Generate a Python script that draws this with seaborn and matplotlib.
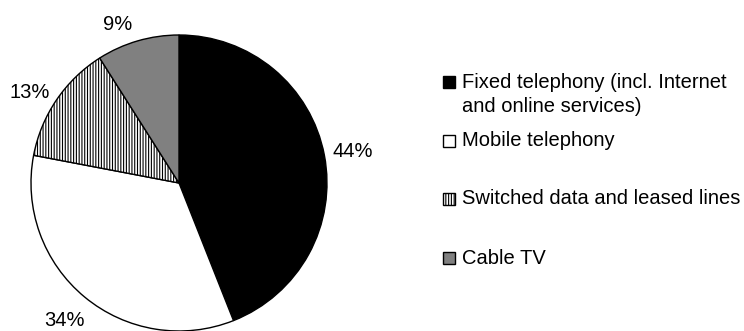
import matplotlib
matplotlib.use("Agg")
import matplotlib.pyplot as plt
from matplotlib.patches import Rectangle
import numpy as np
import seaborn as sns

# Revenue split by market segment
segments = ["Fixed telephony (incl. Internet\nand online services)",
            "Mobile telephony",
            "Switched data and leased lines",
            "Cable TV"]
shares = [44, 34, 13, 9]
fills = ["#000000", "#ffffff", "#ffffff", "#808080"]
hatches = [None, None, "||||||", None]

sns.set_theme(style="white")
plt.rcParams["font.family"] = ["Liberation Sans", "DejaVu Sans"]
plt.rcParams["hatch.linewidth"] = 0.8

W, H = 744, 331
fig = plt.figure(figsize=(W / 100, H / 100), dpi=100)
fig.patch.set_facecolor("white")

cx, cy, r = 179, 183, 148
ax = fig.add_axes([(cx - r) / W, (H - cy - r) / H, 2 * r / W, 2 * r / H])

wedges, texts, autotexts = ax.pie(
    shares, colors=fills, startangle=90, counterclock=False,
    autopct=lambda p: f"{p:.0f}%", pctdistance=1.19,
    wedgeprops=dict(edgecolor="black", linewidth=1.0),
    textprops=dict(fontsize=14.5, color="black"))
for w, h in zip(wedges, hatches):
    if h:
        w.set_hatch(h)
    w.set_clip_on(False)

# Nudge the percentage labels around the rim
label_dist = [1.19, 1.21, 1.18, 1.15]
label_turn = [-0.6, 0.0, 3.1, 4.9]
for w, t, d, off in zip(wedges, autotexts, label_dist, label_turn):
    mid = np.deg2rad((w.theta1 + w.theta2) / 2 + off)
    t.set_position((d * np.cos(mid), d * np.sin(mid)))
    t.set_clip_on(False)

ax.set_aspect("equal")
ax.set_xlim(-1, 1)
ax.set_ylim(-1, 1)
ax.axis("off")

# Legend drawn beside the pie
rows_y = [94.5, 141, 199, 258]
sq = 12
for label, fc, hatch, y in zip(segments, fills, hatches, rows_y):
    n_lines = label.count("\n") + 1
    # the swatch sits beside the first line of the entry
    rect_y = y - 12.5 * (n_lines - 1)
    fig.text(462 / W, (H - y) / H, label, fontsize=14.5, va="center",
             ha="left", color="black", linespacing=1.3)
    rect = Rectangle((443 / W, (H - rect_y - sq / 2) / H), sq / W, sq / H,
                     transform=fig.transFigure, facecolor=fc,
                     edgecolor="black", linewidth=1.0,
                     hatch=hatch if hatch else None)
    fig.add_artist(rect)

fig.savefig("out.png", dpi=100)
